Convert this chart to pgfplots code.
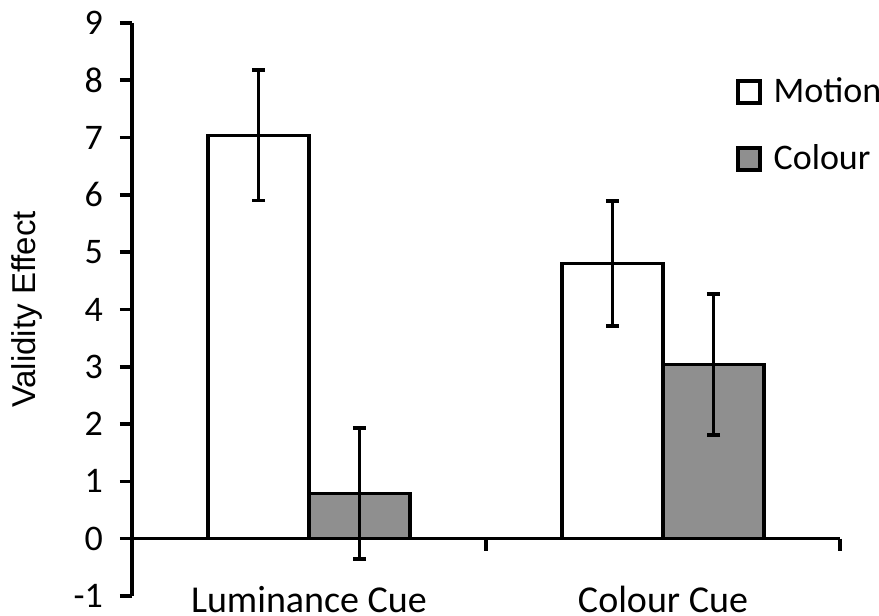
\documentclass[border=0pt]{standalone}
\usepackage{pgfplots}
\pgfplotsset{compat=1.18}
\usepackage{fontspec}
\setmainfont{Carlito}
\newfontfamily\arialfont{Liberation Sans}
\definecolor{bargray}{RGB}{143,143,143}
\begin{document}
\begin{tikzpicture}
\path[use as bounding box] (-66pt,-10pt) rectangle (373.5pt,298pt);
\begin{axis}[
  at={(0,0)}, anchor=south west,
  scale only axis, width=354pt, height=286.5pt,
  xmin=-0.5, xmax=1.5, ymin=-1, ymax=9,
  ybar=0pt, bar width=50.5pt,
  axis x line=none,
  axis y line*=left,
  ytick={-1,0,...,9},
  tick align=outside,
  major tick length=6pt,
  tick style={line width=1.8pt, black},
  axis line style={line width=1.8pt, black},
  yticklabel style={font=\fontsize{18}{20}\selectfont, xshift=-5pt},
  /pgf/number format/assume math mode=true,
  legend style={at={(rel axis cs:0.852,0.912)}, anchor=north west, draw=none, fill=none,
    font=\fontsize{18}{20}\selectfont, row sep=15.5pt, inner sep=0pt,
    /tikz/every odd column/.append style={column sep=4pt}},
  legend cell align=left,
  legend image code/.code={\draw[#1, line width=2pt, draw=black] (0pt,-5.5pt) rectangle (11pt,5.5pt);},
  clip=false,
]
\addplot[draw=black, fill=white, line width=1.8pt,
  error bars/.cd, y dir=both, y explicit,
  error bar style={line width=1.8pt, black},
  error mark options={rotate=90, mark size=3.3pt, line width=1.8pt, black}]
  coordinates {(0,7.04) +- (0,1.14) (1,4.80) +- (0,1.09)};
\addplot[draw=black, fill=bargray, line width=1.8pt,
  error bars/.cd, y dir=both, y explicit,
  error bar style={line width=1.8pt, black},
  error mark options={rotate=90, mark size=3.3pt, line width=1.8pt, black}]
  coordinates {(0,0.79) +- (0,1.14) (1,3.04) +- (0,1.23)};
\legend{Motion, Colour}
\draw[line width=1.8pt] (axis cs:-0.5,0) -- (axis cs:1.5,0);
\draw[line width=1.8pt] (axis cs:0.5,0) -- ([yshift=-6pt]axis cs:0.5,0);
\draw[line width=1.8pt] (axis cs:1.5,0) -- ([yshift=-6pt]axis cs:1.5,0);
\node[anchor=base, font=\fontsize{19}{21}\selectfont] at ([yshift=-8.5pt]axis cs:0,-1) {Luminance Cue};
\node[anchor=base, font=\fontsize{19}{21}\selectfont] at ([yshift=-8.5pt]axis cs:1,-1) {Colour Cue};
\node[rotate=90, font=\arialfont\fontsize{16.5}{18}\selectfont] at ([xshift=-52.5pt]axis cs:-0.5,4) {Validity Effect};
\end{axis}
\end{tikzpicture}
\end{document}
